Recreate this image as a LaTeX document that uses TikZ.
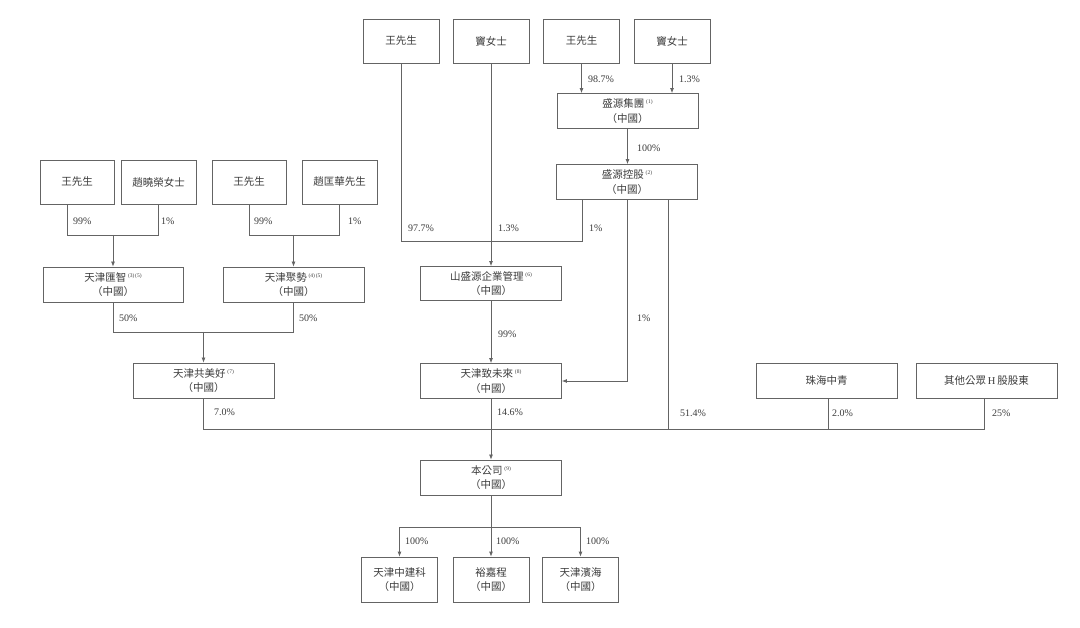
\documentclass[tikz,border=0pt]{standalone}
\usepackage{fontspec}
\setmainfont{Liberation Serif}
\newfontfamily\cjk{Noto Sans CJK TC}
\usetikzlibrary{arrows.meta}
\definecolor{lc}{RGB}{100,100,100}
\definecolor{tc}{RGB}{60,60,60}
\newcommand\nt[1]{\,\raisebox{0.7ex}{\rmfamily\fontsize{5.5}{5.5}\selectfont(#1)}}
\newcommand\cn{\\（中國）}
\begin{document}
\begin{tikzpicture}[x=1pt,y=-1pt,
 ln/.style={draw=lc,line width=0.8pt},
 ar/.style={ln,-{Latex[length=5pt,width=4pt]}},
 bx/.style={draw=lc,line width=0.8pt,inner sep=0pt,align=center,text=tc,font=\cjk\fontsize{10.5}{14.5}\selectfont},
 pbox/.style={bx,minimum width=76pt,minimum height=44pt},
 cbox/.style={bx,minimum width=141pt,minimum height=35pt},
 kbox/.style={bx,minimum width=76pt,minimum height=45pt},
 pct/.style={anchor=west,inner sep=0pt,text=tc,font=\fontsize{10}{12}\selectfont}]
\useasboundingbox (0,0) rectangle (1080,628);
\fill[white] (0,0) rectangle (1080,628);
% top persons
\node[pbox] (w1) at (401,41) {王先生};
\node[pbox] (d1) at (491,41) {竇女士};
\node[pbox] (w2) at (581.5,41) {王先生};
\node[pbox] (d2) at (672,41) {竇女士};
\node[cbox] (syjt) at (627.5,111) {盛源集團\nt{1}\cn};
\node[cbox] (sykg) at (627,182) {盛源控股\nt{2}\cn};
% left persons
\node[pbox,minimum width=74pt] (l1) at (77,182) {王先生};
\node[pbox,minimum width=75pt] (l2) at (158.5,182) {趙曉榮女士};
\node[pbox,minimum width=74pt] (l3) at (249,182) {王先生};
\node[pbox,minimum width=75pt] (l4) at (339.5,182) {趙匡華先生};
\node[cbox,minimum width=140pt] (hz) at (113,284.5) {天津匯智\nt{3}\kern-1pt\nt{5}\cn};
\node[cbox] (js) at (293.5,284.5) {天津聚勢\nt{4}\kern-1pt\nt{5}\cn};
\node[cbox] (gmh) at (203.5,380.5) {天津共美好\nt{7}\cn};
\node[cbox,minimum height=34pt] (ssy) at (491,283.5) {山盛源企業管理\nt{6}\cn};
\node[cbox] (zwl) at (491,381) {天津致未來\nt{8}\cn};
\node[cbox] (zhzq) at (826.5,380.5) {珠海中青};
\node[cbox] (qt) at (986.5,380.5) {其他公眾{\rmfamily\,H\,}股股東};
\node[cbox] (bgs) at (491,477.5) {本公司\nt{9}\cn};
\node[kbox] (c1) at (399.5,579.5) {天津中建科\cn};
\node[kbox] (c2) at (491,579.5) {裕嘉程\cn};
\node[kbox] (c3) at (580.5,579.5) {天津濱海\cn};
% coordinates
\coordinate (sk1) at ([xshift=-45pt]sykg.south);
\coordinate (sk2) at ([xshift=41pt]sykg.south);
% connectors top
\draw[ar] (w2.south) -- (w2.south |- syjt.north);
\draw[ar] (d2.south) -- (d2.south |- syjt.north);
\draw[ar] (syjt.south) -- (syjt.south |- sykg.north);
\draw[ln] (w1.south) |- (sk1 |- 0,241) -- (sk1);
\draw[ar] (d1.south) -- (ssy.north);
\draw[ar] (sykg.south) |- (zwl.east);
\draw[ln] (sk2) -- (sk2 |- 0,429);
% left
\draw[ln] ([xshift=-10pt]l1.south) |- (l2.south |- 0,235) -- (l2.south);
\draw[ar] (hz.north |- 0,235) -- (hz.north);
\draw[ln] (l3.south) |- (l4.south |- 0,235) -- (l4.south);
\draw[ar] (js.north |- 0,235) -- (js.north);
\draw[ln] (hz.south) |- (js.south |- 0,332) -- (js.south);
\draw[ar] (gmh.north |- 0,332) -- (gmh.north);
% middle
\draw[ar] (ssy.south) -- (zwl.north);
\draw[ln] (gmh.south) |- ([xshift=-2.5pt]qt.south |- 0,429) -- ([xshift=-2.5pt]qt.south);
\draw[ln] ([xshift=1.5pt]zhzq.south) -- ([xshift=1.5pt]zhzq.south |- 0,429);
\draw[ar] (zwl.south) -- (bgs.north);
% bottom
\draw[ln] (c1.north |- 0,527) -- (c3.north |- 0,527);
\draw[ar] (bgs.south) -- (c2.north);
\draw[ar] (c1.north |- 0,527) -- (c1.north);
\draw[ar] (c3.north |- 0,527) -- (c3.north);
% labels
\node[pct] (p1) at (588,79) {98.7\%};
\node[pct] (p2) at (679,79) {1.3\%};
\node[pct] (p3) at (637,148) {100\%};
\node[pct] (p4) at (408,228) {97.7\%};
\node[pct] (p5) at (498,228) {1.3\%};
\node[pct] (p6) at (589,228) {1\%};
\node[pct] (p7) at (73,221) {99\%};
\node[pct] (p8) at (161,221) {1\%};
\node[pct] (p9) at (254,221) {99\%};
\node[pct] (p10) at (348,221) {1\%};
\node[pct] (p11) at (119,318) {50\%};
\node[pct] (p12) at (299,318) {50\%};
\node[pct] (p13) at (498,334) {99\%};
\node[pct] (p14) at (637,318) {1\%};
\node[pct] (p15) at (214,412) {7.0\%};
\node[pct] (p16) at (497,412) {14.6\%};
\node[pct] (p17) at (680,413) {51.4\%};
\node[pct] (p18) at (832,413) {2.0\%};
\node[pct] (p19) at (992,413) {25\%};
\node[pct] (p20) at (405,541) {100\%};
\node[pct] (p21) at (496,541) {100\%};
\node[pct] (p22) at (586,541) {100\%};
\end{tikzpicture}
\end{document}
